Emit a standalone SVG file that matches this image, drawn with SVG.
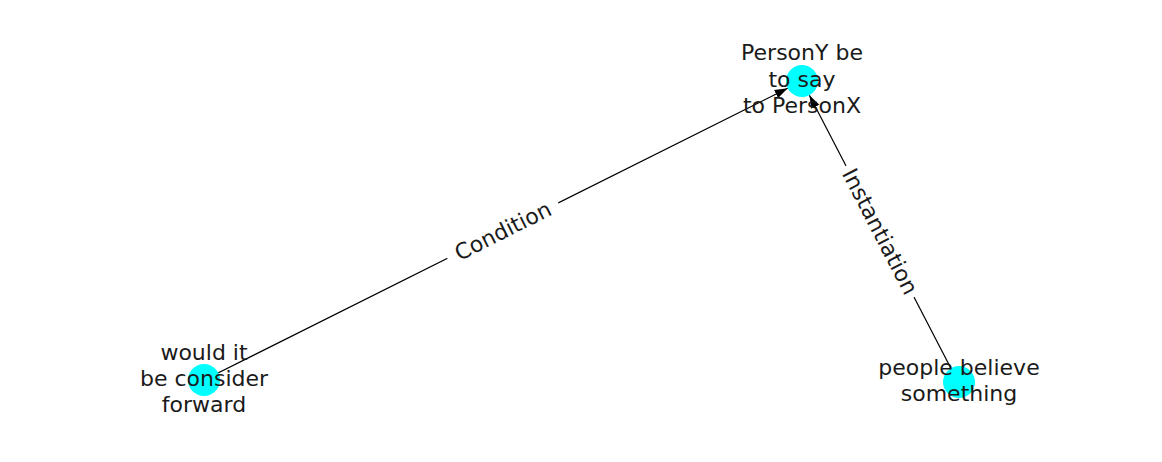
<svg xmlns="http://www.w3.org/2000/svg" width="1162" height="462" viewBox="0 0 1162 462">
<style>
.edge{stroke:#000;stroke-width:1.2;fill:none;marker-end:url(#arr)}
.node{fill:#00ffff}
.lbl{font-family:"DejaVu Sans",sans-serif;font-size:22px;fill:#1a1a1a;text-anchor:middle}
.elbl{font-family:"DejaVu Sans",sans-serif;font-size:22px;fill:#1a1a1a;text-anchor:middle;dominant-baseline:central}
.bg{fill:#fff}
</style>
<defs>
<marker id="arr" markerUnits="userSpaceOnUse" markerWidth="14" markerHeight="10" refX="13" refY="5" orient="auto">
<path d="M0,0.5 L13,5 L0,9.5 z" fill="#000"/>
</marker>
</defs>
<rect width="1162" height="462" fill="#fff"/>
<g id="connectors">
<line class="edge" x1="204" y1="380" x2="787.7" y2="88.2"/>
<line class="edge" x1="958" y1="382" x2="809.4" y2="95.2"/>
</g>
<g id="node-personY">
<circle class="node" cx="802" cy="81" r="16"/>
<text class="lbl" x="802" y="60">PersonY be</text>
<text class="lbl" x="802" y="86.5">to say</text>
<text class="lbl" x="802" y="113">to PersonX</text>
</g>
<g id="node-would">
<circle class="node" cx="204" cy="380" r="16"/>
<text class="lbl" x="204" y="360">would it</text>
<text class="lbl" x="204" y="386">be consider</text>
<text class="lbl" x="204" y="412">forward</text>
</g>
<g id="node-people">
<circle class="node" cx="959" cy="382" r="16"/>
<text class="lbl" x="959" y="375">people believe</text>
<text class="lbl" x="959" y="401">something</text>
</g>
<g id="edge-labels">
<g transform="translate(503,231) rotate(-26.57)">
<rect class="bg" x="-62" y="-16" width="124" height="32"/>
<text class="elbl" x="0" y="0">Condition</text>
</g>
<g transform="translate(880,231.5) rotate(62.6)">
<rect class="bg" x="-74" y="-16" width="148" height="32"/>
<text class="elbl" x="0" y="0">Instantiation</text>
</g>
</g>
</svg>
